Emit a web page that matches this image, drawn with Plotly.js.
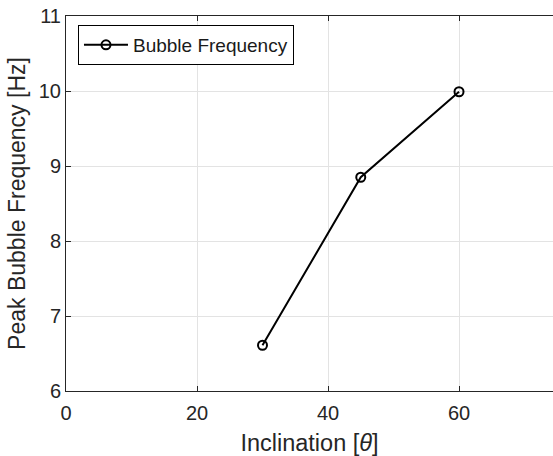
<!DOCTYPE html>
<html>
<head>
<meta charset="utf-8">
<script src="https://cdn.plot.ly/plotly-3.0.1.min.js"></script>
<style>html,body{margin:0;padding:0;background:#fff;}#plot{width:553px;height:456px;}</style>
</head>
<body>
<div id="plot"></div>
<script>
const inclination = [30, 45, 60];
const peakFrequency = [6.61, 8.85, 9.99];
const seriesName = 'Bubble Frequency';
const xTicks = [0, 20, 40, 60];
const yTicks = [6, 7, 8, 9, 10, 11];

const axisColor = '#262626';
const gridColor = '#e3e3e3';
const fontFamily = '"Liberation Sans", Arial, Helvetica, sans-serif';

const trace = {
  x: inclination,
  y: peakFrequency,
  name: seriesName,
  type: 'scatter',
  mode: 'lines+markers',
  line: {color: '#000000', width: 2},
  marker: {symbol: 'circle-open', size: 9, color: '#000000', line: {width: 2, color: '#000000'}},
  showlegend: true
};

const layout = {
  width: 553,
  height: 456,
  margin: {l: 66, r: 0, t: 16, b: 65},
  paper_bgcolor: '#ffffff',
  plot_bgcolor: '#ffffff',
  font: {family: fontFamily, color: axisColor, size: 20},
  showlegend: true,
  legend: {
    x: 0.0246, y: 0.976, xanchor: 'left', yanchor: 'top',
    bgcolor: '#ffffff', bordercolor: '#000000', borderwidth: 1,
    font: {family: fontFamily, size: 19, color: '#1a1a1a'},
    itemwidth: 44, tracegroupgap: 0
  },
  xaxis: {
    range: [0, 74.35],
    tickvals: xTicks,
    ticktext: xTicks.map(String),
    showgrid: true, gridcolor: gridColor, gridwidth: 1,
    zeroline: false,
    showline: true, linecolor: axisColor, linewidth: 1,
    mirror: 'ticks',
    ticks: 'inside', ticklen: 5, tickcolor: axisColor,
    ticklabelstandoff: 4,
    tickfont: {size: 20, color: axisColor},
    title: {text: 'Inclination [<i>θ</i>]', font: {size: 23.5, color: axisColor}, standoff: 19},
    automargin: false
  },
  yaxis: {
    range: [6, 11],
    tickvals: yTicks,
    ticktext: yTicks.map(String),
    showgrid: true, gridcolor: gridColor, gridwidth: 1,
    zeroline: false,
    showline: true, linecolor: axisColor, linewidth: 1,
    ticks: 'inside', ticklen: 5, tickcolor: axisColor,
    tickfont: {size: 20, color: axisColor},
    title: {text: 'Peak Bubble Frequency [Hz]', font: {size: 23, color: axisColor}, standoff: 6},
    automargin: false
  }
};

Plotly.newPlot('plot', [trace], layout, {displayModeBar: false, staticPlot: true});
</script>
</body>
</html>
